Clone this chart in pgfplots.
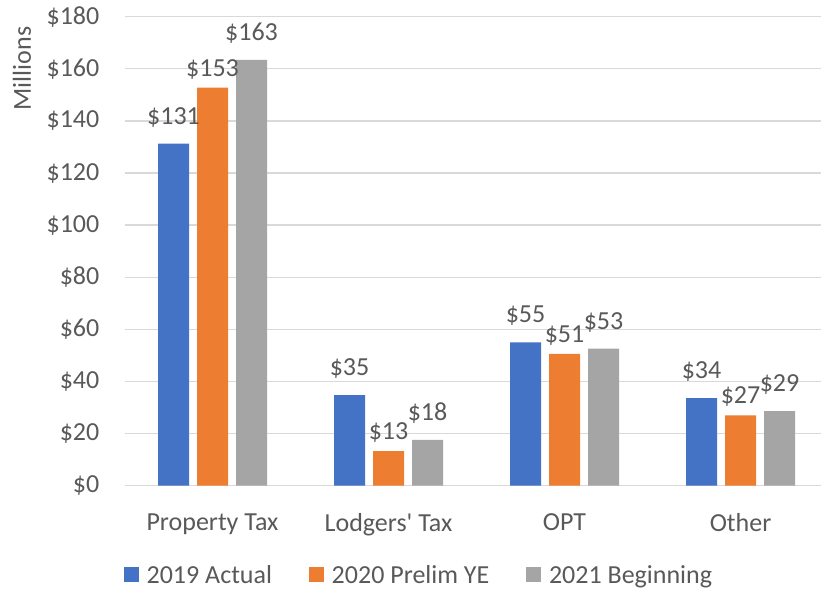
\documentclass[border=0pt]{standalone}
\usepackage{fontspec}
\setmainfont{Carlito}
\usepackage{pgfplots}
\pgfplotsset{compat=1.18}
\definecolor{cblue}{HTML}{4472C4}
\definecolor{corange}{HTML}{ED7D31}
\definecolor{cgray}{HTML}{A5A5A5}
\definecolor{ctext}{HTML}{595959}
\definecolor{cgrid}{HTML}{D9D9D9}
\begin{document}
\begin{tikzpicture}[font=\fontsize{26bp}{31bp}\selectfont, text=ctext]
\path[use as bounding box] (0,0) rectangle (821bp,590bp);
\begin{axis}[
  at={(124.5bp,104.3bp)}, anchor=south west,
  scale only axis, width=696.5bp, height=469bp,
  clip=false,
  ybar=8bp, bar width=31bp,
  xmin=-0.5, xmax=3.457, ymin=0, ymax=180,
  xtick={0,1,2,3}, xticklabels={Property Tax, Lodgers\textquotesingle\ Tax, OPT, Other},
  ytick={0,20,...,180},
  yticklabel={\$\pgfmathprintnumber{\tick}},
  /pgf/number format/assume math mode=true,
  axis line style={draw=none},
  major tick style={draw=none},
  ymajorgrids, grid style={cgrid, line width=1.3bp},
  xticklabel style={inner sep=0pt, anchor=north, yshift=-23.5bp, text=ctext},
  yticklabel style={inner sep=0pt, anchor=east, xshift=-25bp, text=ctext},
  nodes near coords={\$\pgfmathprintnumber[fixed,precision=0]{\pgfplotspointmeta}},
  every node near coord/.append style={anchor=base, inner sep=0pt, text=ctext},
  legend columns=3,
  legend image code/.code={\fill[#1] (0bp,-7.5bp) rectangle (15bp,7.5bp);},
  legend style={at={(0.4214,-0.1904)}, anchor=center, draw=none, fill=none, inner sep=0pt,
    /tikz/every even column/.append style={column sep=37bp},
    /tikz/every odd column/.append style={column sep=7.7bp},
    nodes={inner sep=0pt, text=ctext}},
]
\addplot[fill=cblue, draw=none, every node near coord/.append style={yshift=19.5bp}]
  coordinates {(0,131.3) (1,34.8) (2,55.0) (3,33.6)};
\addplot[fill=corange, draw=none, every node near coord/.append style={yshift=11.5bp}]
  coordinates {(0,152.8) (1,13.3) (2,50.6) (3,27.0)};
\addplot[fill=cgray, draw=none, every node near coord/.append style={yshift=19.5bp}]
  coordinates {(0,163.4) (1,17.6) (2,52.6) (3,28.6)};
\legend{2019 Actual, 2020 Prelim YE, 2021 Beginning}
\node[rotate=90, text=ctext, inner sep=0pt] at (rel axis cs:-0.1472,0.8896) {Millions};
\end{axis}
\end{tikzpicture}
\end{document}
